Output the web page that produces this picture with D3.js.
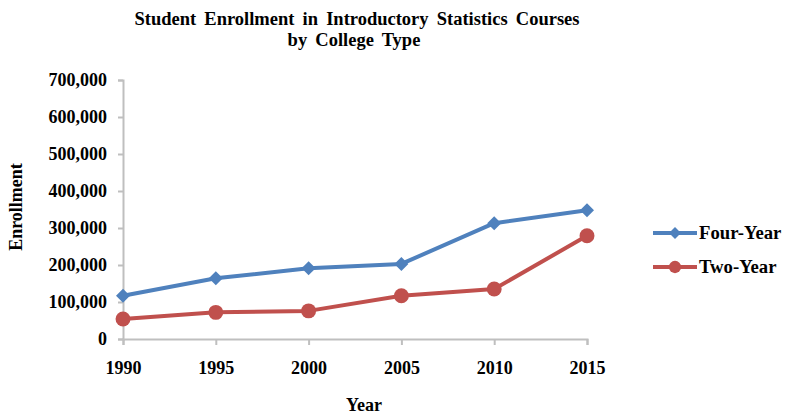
<!DOCTYPE html>
<html><head><meta charset="utf-8">
<script src="https://cdn.jsdelivr.net/npm/d3@7"></script>
<style>body{margin:0;background:#fff}svg{display:block}text{font-family:"Liberation Serif","Times New Roman",serif;font-weight:bold;fill:#000}</style>
</head><body>
<svg id="c" width="787" height="417"></svg>
<script>
const years = [1990, 1995, 2000, 2005, 2010, 2015];
const fourYear = [117000, 164000, 191000, 203000, 313000, 348000];
const twoYear = [54000, 72000, 76000, 117000, 135000, 279000];
const yTicks = [0, 100000, 200000, 300000, 400000, 500000, 600000, 700000];
const seriesNames = ["Four-Year", "Two-Year"];
const titleLines = ["Student Enrollment in Introductory Statistics Courses", "by College Type"];
const colors = ["#4f81bd", "#c0504d"];

const svg = d3.select("#c");
const x = d3.scaleLinear().domain([1990, 2015]).range([123, 587]);
const y = d3.scaleLinear().domain([0, 700000]).range([339, 80]);
const fmt = d3.format(",");
const F = "Liberation Serif";

// title
const t1 = svg.append("text").attr("x", 357).attr("y", 25).attr("text-anchor", "middle")
  .style("font-size", "18.5px").text(titleLines[0]);
const nat = t1.node().getComputedTextLength();
const ws = Math.max(0, (445 - nat) / 5);
t1.style("word-spacing", ws + "px");
svg.append("text").attr("x", 354).attr("y", 46).attr("text-anchor", "middle")
  .style("font-size", "18.5px").style("word-spacing", ws + "px").text(titleLines[1]);

// y axis
const ya = svg.append("g").attr("transform", "translate(123,0)")
  .call(d3.axisLeft(y).tickValues(yTicks).tickFormat(fmt).tickSize(5).tickPadding(11));
ya.select(".domain").attr("stroke", "#bfbfbf").attr("stroke-width", 2);
ya.selectAll(".tick line").attr("stroke", "#bfbfbf").attr("stroke-width", 2);
ya.selectAll(".tick text").style("font-size", "18px").style("font-family", F).style("font-weight", "bold").attr("fill", "#000");

// x axis
const xa = svg.append("g").attr("transform", "translate(0,339)")
  .call(d3.axisBottom(x).tickValues(years).tickFormat(d3.format("d")).tickSize(6).tickPadding(16));
xa.select(".domain").attr("stroke", "#bfbfbf").attr("stroke-width", 2);
xa.selectAll(".tick line").attr("stroke", "#bfbfbf").attr("stroke-width", 2);
xa.selectAll(".tick text").style("font-size", "18px").style("font-family", F).style("font-weight", "bold").attr("fill", "#000");

// axis titles
svg.append("text").attr("x", 364).attr("y", 411).attr("text-anchor", "middle").style("font-size", "18px").text("Year");
svg.append("text").attr("transform", "translate(22,207) rotate(-90)").attr("text-anchor", "middle").style("font-size", "18px").text("Enrollment");

const series = [fourYear, twoYear];
const line = d3.line().x((d, i) => x(years[i])).y(d => y(d));
series.forEach((s, k) => {
  svg.append("path").datum(s).attr("d", line).attr("fill", "none")
    .attr("stroke", colors[k]).attr("stroke-width", 4).attr("stroke-linejoin", "round");
  const sym = k === 0 ? d3.symbol().type(d3.symbolDiamond2).size(125) : d3.symbol().type(d3.symbolCircle).size(175);
  svg.selectAll(null).data(s).enter().append("path")
    .attr("d", sym).attr("fill", colors[k])
    .attr("transform", (d, i) => `translate(${x(years[i])},${y(d)})`);
});

// legend
seriesNames.forEach((n, k) => {
  const ly = 233 + k * 34;
  const g = svg.append("g");
  g.append("line").attr("x1", 653).attr("x2", 697).attr("y1", ly).attr("y2", ly)
    .attr("stroke", colors[k]).attr("stroke-width", 4);
  const sym = k === 0 ? d3.symbol().type(d3.symbolDiamond2).size(90) : d3.symbol().type(d3.symbolCircle).size(120);
  g.append("path").attr("d", sym).attr("fill", colors[k]).attr("transform", `translate(675,${ly})`);
  g.append("text").attr("x", 699).attr("y", ly + 6).style("font-size", "18.7px").text(n);
});
</script>
</body></html>
